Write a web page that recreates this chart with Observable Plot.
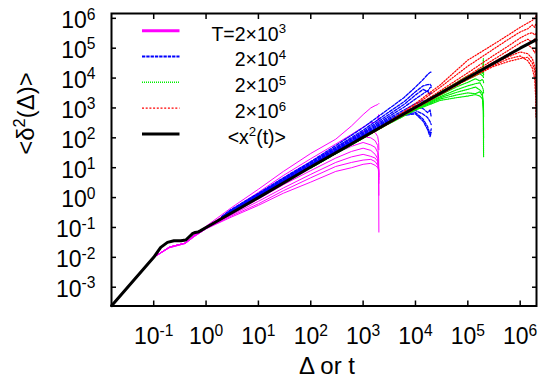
<!DOCTYPE html>
<html><head><meta charset="utf-8">
<script src="https://cdn.jsdelivr.net/npm/d3@7"></script>
<script src="https://cdn.jsdelivr.net/npm/@observablehq/plot@0.6"></script>
<style>
body{margin:0;background:#fff}
#chart{position:relative;width:545px;height:382px;font-family:"Liberation Sans",Arial,sans-serif}
#chart svg{font-family:"Liberation Sans",Arial,sans-serif}
#legend{position:absolute;left:0;top:0;pointer-events:none}
</style></head><body><div id="chart"></div>
<script>
// ---- axis ticks ----
const xTicks = [0.1, 1, 10, 100, 1e3, 1e4, 1e5, 1e6];
const xTickLabels = ["10^{-1}", "10^{0}", "10^{1}", "10^{2}", "10^{3}", "10^{4}", "10^{5}", "10^{6}"];
const yTicks = [1e-3, 1e-2, 1e-1, 1, 10, 100, 1e3, 1e4, 1e5, 1e6];
const yTickLabels = ["10^{-3}", "10^{-2}", "10^{-1}", "10^{0}", "10^{1}", "10^{2}", "10^{3}", "10^{4}", "10^{5}", "10^{6}"];
const xTitle = "Δ or t";
const yTitle = "<δ^{2}(Δ)>";

// ---- legend ----
const legendLabels = ["T=2×10^{3}", "2×10^{4}", "2×10^{5}", "2×10^{6}", "<x^{2}(t)>"];

// ---- ensemble average <x^2(t)> (black) ----
const tBlack = [0.0157, 0.1, 0.136, 0.183, 0.244, 0.33, 0.41, 0.51, 0.55, 0.62, 0.7, 0.79, 1, 10, 100, 1e3, 1e4, 1e5, 1e6, 2e6];
const yBlack = [2.4e-4, 0.01, 0.0216, 0.0316, 0.036, 0.036, 0.038, 0.054, 0.062, 0.068, 0.07, 0.0785, 0.1, 1.0, 10.5, 105, 1050, 1.02e4, 1.0e5, 1.9e5];

// ---- T = 2x10^3 (magenta) ----
const tMagenta = [0.1, 0.2, 0.4, 0.6, 1, 3, 10, 30, 100, 300, 600, 1000, 1400, 1700, 1900, 1980, 2000];
const yMagenta = [
  [0.01, 0.022, 0.03, 0.055, 0.11, 0.45, 1.9, 7.5, 30, 90, 250, 600, 1000, 1200, 1300, 1400, 1400],
  [0.01, 0.022, 0.03, 0.055, 0.10, 0.38, 1.5, 5.5, 20, 62, 130, 230, 320, 330, 420, 600, 280],
  [0.01, 0.022, 0.03, 0.055, 0.10, 0.35, 1.3, 4.5, 16, 48, 95, 160, 190, 150, 110, 70, 40],
  [0.01, 0.022, 0.03, 0.055, 0.10, 0.33, 1.15, 3.8, 13, 38, 72, 110, 100, 80, 55, 20, 6],
  [0.01, 0.022, 0.03, 0.055, 0.10, 0.31, 1.05, 3.3, 10.5, 30, 52, 70, 58, 48, 32, 8, 0.07],
  [0.01, 0.022, 0.03, 0.053, 0.095, 0.28, 0.9, 2.7, 8, 21, 35, 45, 38, 28, 20, 6, 1.2],
  [0.01, 0.022, 0.03, 0.053, 0.095, 0.26, 0.75, 2.1, 6, 15, 23, 28, 24, 21, 16, 10, 3],
  [0.01, 0.021, 0.029, 0.05, 0.09, 0.24, 0.62, 1.7, 4.6, 11, 15, 18, 19, 16, 12, 8, 5],
  [0.01, 0.021, 0.029, 0.05, 0.09, 0.22, 0.55, 1.4, 3.3, 7.5, 10, 13, 14, 12, 10, 9, 4]
];

// ---- T = 2x10^4 (blue) ----
const tBlue = [2, 3, 10, 30, 100, 300, 1000, 3000, 6000, 10000, 14000, 17000, 19000, 20000];
const yBlue = [
  [0.23, 0.40, 1.4, 4.6, 16, 55, 220, 900, 2200, 5000, 9000, 13000, 15500, 16000],
  [0.23, 0.38, 1.35, 4.3, 15, 48, 180, 700, 1600, 3500, 5500, 6000, 6200, 5500],
  [0.22, 0.37, 1.3, 4.1, 14, 44, 160, 580, 1300, 2700, 4200, 3500, 4800, 5000],
  [0.22, 0.36, 1.25, 3.9, 13, 41, 145, 500, 1050, 2000, 3000, 3800, 2800, 3200],
  [0.22, 0.35, 1.2, 3.8, 12.5, 39, 135, 440, 850, 1400, 1800, 1500, 1900, 1300],
  [0.22, 0.35, 1.2, 3.7, 12, 37, 125, 400, 730, 1050, 950, 700, 850, 500],
  [0.21, 0.34, 1.15, 3.6, 11.5, 35, 118, 370, 660, 820, 620, 480, 350, 280],
  [0.21, 0.34, 1.15, 3.5, 11, 34, 112, 345, 600, 700, 420, 240, 130, 200],
  [0.21, 0.33, 1.1, 3.4, 11, 33, 108, 330, 560, 640, 360, 190, 110, 150]
];

// ---- T = 2x10^5 (green) ----
const tGreen = [100, 300, 1000, 3000, 10000, 30000, 60000, 100000, 140000, 170000, 190000, 198000, 200000];
const yGreen = [
  [10, 30, 100, 310, 1000, 3400, 7000, 12000, 15000, 20000, 14000, 45000, 12000],
  [10, 30, 100, 300, 1000, 3000, 6200, 9000, 12000, 14000, 12000, 11000, 10000],
  [10, 30, 100, 300, 980, 2700, 5000, 7200, 9500, 8000, 9000, 8000, 7000],
  [10, 30, 100, 300, 950, 2400, 4000, 5500, 6500, 7000, 5000, 4000, 3000],
  [10, 30, 99, 295, 920, 2200, 3300, 4200, 5000, 4000, 3200, 1000, 22],
  [10, 30, 98, 290, 880, 2000, 2700, 3200, 3000, 3500, 2500, 1500, 500],
  [10, 30, 97, 285, 850, 1800, 2200, 2500, 2800, 2500, 2000, 800, 100]
];

// ---- T = 2x10^6 (red) ----
const tRed = [1000, 3000, 10000, 30000, 100000, 300000, 600000, 1000000, 1400000, 1700000, 1900000, 1980000, 2000000];
const yRed = [
  [100, 330, 1400, 6000, 40000, 130000, 280000, 500000, 700000, 850000, 1000000, 1150000, 1200000],
  [100, 320, 1250, 5000, 25000, 90000, 200000, 350000, 450000, 600000, 500000, 650000, 700000],
  [100, 310, 1100, 3800, 15000, 55000, 120000, 220000, 300000, 330000, 280000, 300000, 320000],
  [100, 300, 1050, 3300, 12000, 40000, 85000, 150000, 200000, 160000, 210000, 180000, 150000],
  [100, 300, 1000, 3100, 10500, 33000, 65000, 100000, 130000, 100000, 70000, 90000, 80000],
  [100, 300, 1000, 3000, 10000, 29000, 52000, 75000, 65000, 45000, 25000, 15000, 10000],
  [100, 295, 980, 2900, 9500, 26000, 44000, 55000, 38000, 22000, 9000, 2000, 500],
  [100, 295, 970, 2800, 9000, 24000, 36000, 45000, 50000, 32000, 18000, 6000, 3000]
];

// ---- build tables ----
function rows(ts, ys, name) {
  return ys.flatMap((curve, k) => curve.map((y, i) => ({t: ts[i], y, id: name + k})));
}
const magentaRows = rows(tMagenta, yMagenta, "m");
const blueRows = rows(tBlue, yBlue, "b");
const greenRows = rows(tGreen, yGreen, "g");
const redRows = rows(tRed, yRed, "r");
const blackRows = tBlack.map((t, i) => ({t, y: yBlack[i]}));

const styles = [
  {stroke: "#ff00ff", strokeWidth: 1, dash: null, lw: 3, ldash: null},
  {stroke: "#0000ff", strokeWidth: 1.3, dash: "3,1.5", lw: 2, ldash: "3.3,1"},
  {stroke: "#00ee00", strokeWidth: 1.2, dash: "1,1", lw: 1.4, ldash: "1,1"},
  {stroke: "#ff0000", strokeWidth: 1.2, dash: "1.3,1.6", lw: 1.2, ldash: "2,1.7"},
  {stroke: "#000000", strokeWidth: 3, dash: null, lw: 3, ldash: null}
];

const FONT = "Liberation Sans, Arial, sans-serif";
const lineMark = (data, s) => Plot.line(data, {x: "t", y: "y", z: s === styles[4] ? null : "id",
  stroke: s.stroke, strokeWidth: s.strokeWidth, strokeDasharray: s.dash, curve: "linear"});

const plot = Plot.plot({
  width: 545, height: 382,
  marginLeft: 111, marginRight: 9, marginTop: 13, marginBottom: 76.5,
  style: {fontFamily: FONT, fontSize: "23px", color: "black", background: "white"},
  x: {type: "log", domain: [1 / 64, 2.05e6]},
  y: {type: "log", domain: [2.35e-4, 1.45e6]},
  marks: [
    lineMark(magentaRows, styles[0]),
    lineMark(blueRows, styles[1]),
    lineMark(greenRows, styles[2]),
    lineMark(redRows, styles[3]),
    lineMark(blackRows, styles[4]),
    Plot.frame({stroke: "black", strokeWidth: 2}),
    Plot.axisX({ticks: xTicks, anchor: "bottom", tickSize: -5, strokeWidth: 1.5, tickFormat: () => "", label: null}),
    Plot.axisX({ticks: xTicks, anchor: "top", tickSize: -5, strokeWidth: 1.5, tickFormat: () => "", label: null}),
    Plot.axisY({ticks: yTicks, anchor: "left", tickSize: -5, strokeWidth: 1.5, tickFormat: () => "", label: null}),
    Plot.axisY({ticks: yTicks, anchor: "right", tickSize: -5, strokeWidth: 1.5, tickFormat: () => "", label: null}),
    Plot.axisX({ticks: xTicks, anchor: "bottom", tickSize: 0, tickPadding: 22, fontSize: 23,
      tickFormat: d => xTickLabels[xTicks.indexOf(d)], label: null}),
    Plot.axisY({ticks: yTicks, anchor: "left", tickSize: 0, tickPadding: 16, fontSize: 23, dy: 2.5,
      tickFormat: d => yTickLabels[yTicks.indexOf(d)], label: null}),
    Plot.text([xTitle], {text: d => d, frameAnchor: "bottom", lineAnchor: "bottom", dy: 68, dx: 3, fontSize: 24}),
    Plot.text([yTitle], {text: d => d, frameAnchor: "left", rotate: -90, lineAnchor: "bottom", dx: -78, dy: -5, fontSize: 24})
  ]
});

const NS = "http://www.w3.org/2000/svg";
function supify(el) {
  const s = el.textContent;
  if (!s.includes("^{")) return;
  while (el.firstChild) el.removeChild(el.firstChild);
  const parts = s.split(/(\^\{[^}]*\})/);
  let raised = false;
  for (const p of parts) {
    if (!p) continue;
    const ts = document.createElementNS(NS, "tspan");
    if (p.startsWith("^{")) {
      ts.textContent = p.slice(2, -1);
      ts.setAttribute("font-size", "0.68em");
      ts.setAttribute("dy", "-0.55em");
      raised = true;
    } else {
      ts.textContent = p;
      if (raised) { ts.setAttribute("dy", "0.374em"); raised = false; }
    }
    el.appendChild(ts);
  }
}
d3.select(plot).selectAll("text").each(function () { supify(this); });

const chart = document.getElementById("chart");
chart.appendChild(plot);

// legend overlay
const legendX0 = 142, legendX1 = 179.5, legendTextX = 286, legendY0 = 30.7, legendDY = 25.8;
const leg = d3.select(chart).append("svg").attr("id", "legend")
  .attr("width", 545).attr("height", 382)
  .style("font-family", FONT).style("font-size", "19.5px");
legendLabels.forEach((lab, i) => {
  const s = styles[i];
  const y = legendY0 + i * legendDY;
  leg.append("line").attr("x1", legendX0).attr("x2", legendX1).attr("y1", y).attr("y2", y)
    .attr("stroke", s.stroke).attr("stroke-width", s.lw).attr("stroke-dasharray", s.ldash);
  const t = leg.append("text").attr("x", legendTextX).attr("y", y + 9.8)
    .attr("text-anchor", "end").text(lab);
  supify(t.node());
});
</script></body></html>
